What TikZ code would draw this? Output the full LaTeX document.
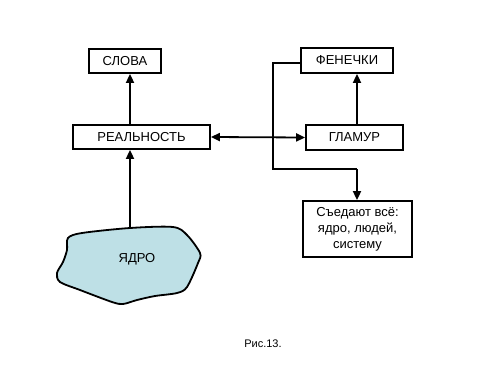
\documentclass[tikz,border=0pt]{standalone}
\usepackage{fontspec}
\setmainfont{Liberation Sans}
\usetikzlibrary{arrows.meta}
\definecolor{blobfill}{RGB}{190,224,230}
\begin{document}
\begin{tikzpicture}[x=1pt,y=-1pt,
  box/.style={draw=black,line width=1.8pt,fill=white,inner sep=0pt,font=\fontsize{13}{16}\selectfont,align=center},
  conn/.style={line width=1.8pt,-{Triangle[length=9pt,width=8pt]}},
  dconn/.style={line width=1.8pt,{Triangle[length=9pt,width=8pt]}-{Triangle[length=9pt,width=8pt]}},
  plain/.style={line width=1.8pt}]
\useasboundingbox (0,0) rectangle (500,375);
\fill[white] (0,0) rectangle (500,375);
% blob
\draw[line width=1.8pt,fill=blobfill] plot[smooth cycle,tension=0.5] coordinates {
 (68,238) (82,233) (130,228) (173,227) (187,235) (200,253) (198,263) (187,287)
 (177,293) (155,296) (137,300) (123,304) (112,302) (80,290) (60,282) (57,273) (63,262) (67,250)};
\node[font=\fontsize{13}{15}\selectfont] (yadro) at (137,259) {ЯДРО};
\coordinate (blobtop) at (130,228.5);
\node[box,minimum width=72pt,minimum height=24pt] (slova) at (125,61) {СЛОВА};
\node[box,minimum width=137pt,minimum height=24pt] (real) at (141.5,137) {РЕАЛЬНОСТЬ};
\node[box,minimum width=92pt,minimum height=25pt] (fen) at (347,60.5) {ФЕНЕЧКИ};
\node[box,minimum width=97pt,minimum height=25pt] (glam) at (354.5,137.5) {ГЛАМУР};
\node[box,minimum width=109pt,minimum height=56pt] (sys) at (357.5,229) {Съедают всё:\\ядро, людей,\\систему};
\node[font=\fontsize{11}{13}\selectfont] (fig) at (263,344) {Рис.13.};
\coordinate (ax1) at (130,0);
\coordinate (ax2) at (357,0);
\coordinate (c1) at (273,63);
\coordinate (c2) at (273,169);
\coordinate (c3) at (357,169);
% connectors
\draw[conn] (blobtop) -- (real.south -| ax1);
\draw[conn] (real.north -| ax1) -- (slova.south -| ax1);
\draw[conn] (glam.north -| ax2) -- (fen.south -| ax2);
\draw[dconn] (real.east) -- (glam.west);
\draw[plain] (fen.west |- c1) -- (c1) -- (c2) -- (c3);
\draw[conn] (c3) -- (sys.north -| c3);
\end{tikzpicture}
\end{document}
